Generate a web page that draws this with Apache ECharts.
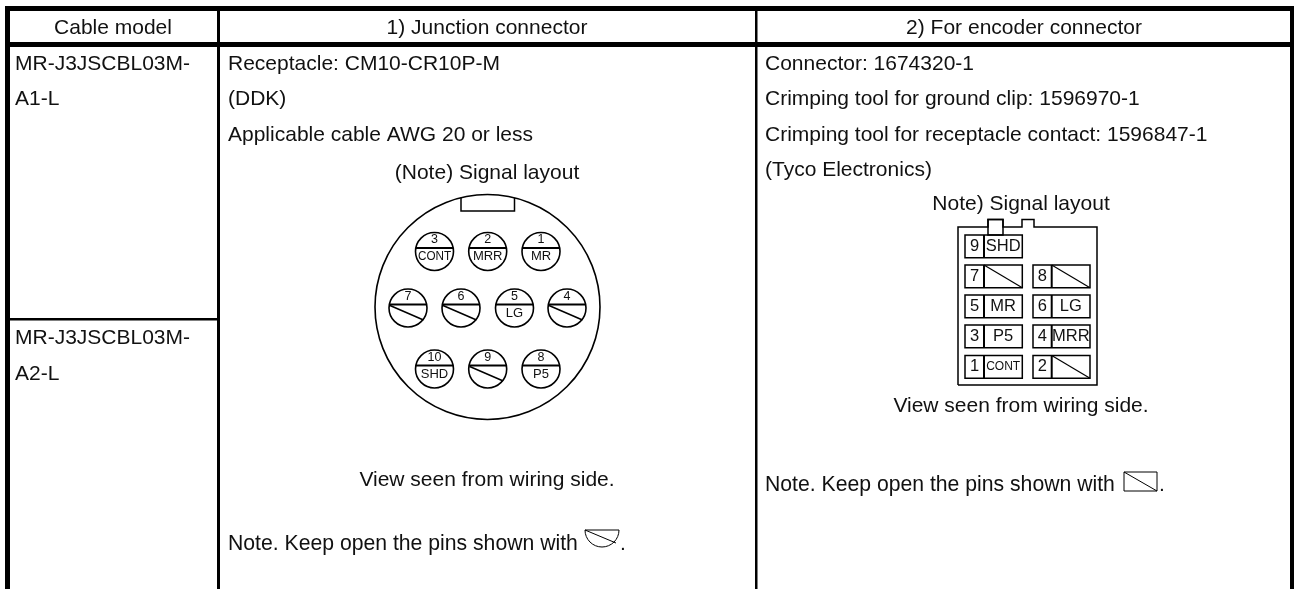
<!DOCTYPE html>
<html>
<head>
<meta charset="utf-8">
<style>
  html, body { margin: 0; padding: 0; background: #fff; }
  #chart { width: 1294px; height: 589px; }
</style>
</head>
<body>
<div id="chart"></div>
<script src="https://cdn.jsdelivr.net/npm/echarts@6/dist/echarts.min.js"></script>
<script>
const headers = ['Cable model', '1) Junction connector', '2) For encoder connector']
const cableModels = [['MR-J3JSCBL03M-', 'A1-L'], ['MR-J3JSCBL03M-', 'A2-L']]
const junctionLines = ['Receptacle: CM10-CR10P-M', '(DDK)', 'Applicable cable AWG 20 or less']
const encoderLines = ['Connector: 1674320-1', 'Crimping tool for ground clip: 1596970-1',
    'Crimping tool for receptacle contact: 1596847-1', '(Tyco Electronics)']
const layoutTitles = ['(Note) Signal layout', 'Note) Signal layout']
const viewText = 'View seen from wiring side.'
const noteText = 'Note. Keep open the pins shown with'
const roundPinNumbers = [['3', '2', '1'], ['7', '6', '5', '4'], ['10', '9', '8']]
const roundPinSignals = [['CONT', 'MRR', 'MR'], ['', '', 'LG', ''], ['SHD', '', 'P5']]
const rectPinNumbers = [['9'], ['7', '8'], ['5', '6'], ['3', '4'], ['1', '2']]
const rectPinSignals = [['SHD'], ['', ''], ['MR', 'LG'], ['P5', 'MRR'], ['CONT', '']]

const FONT = '"Liberation Sans", Arial, sans-serif'
const INK = '#000'
const TEXT_INK = '#111'

// layout, all in page pixels
const roundRowY = [251.5, 308, 369]
const roundColX = [[434.5, 487.7, 541], [408, 461, 514.5, 567], [434.5, 487.7, 541]]
const rectRowY = [235, 265, 295, 325, 355.5]
const rectColX = [[965, 984, 1022.3], [1033, 1051.7, 1090]]
const PIN_R = 19

function text(api, x, y, str, size, align, extra) {
    const p = api.coord([x, y])
    return Object.assign({
        type: 'text',
        x: p[0],
        y: p[1],
        style: {
            text: str,
            font: size + 'px ' + FONT,
            fill: TEXT_INK,
            align: align || 'left',
            verticalAlign: 'middle'
        }
    }, extra || {})
}

function line(api, x1, y1, x2, y2, w) {
    const a = api.coord([x1, y1])
    const b = api.coord([x2, y2])
    return {
        type: 'line',
        shape: { x1: a[0], y1: a[1], x2: b[0], y2: b[1] },
        style: { stroke: INK, lineWidth: w || 1.5 }
    }
}

function bar(api, x, y, w, h) {
    const p = api.coord([x, y])
    return { type: 'rect', shape: { x: p[0], y: p[1], width: w, height: h }, style: { fill: INK } }
}

function box(api, x, y, w, h, lw) {
    const p = api.coord([x, y])
    return {
        type: 'rect',
        shape: { x: p[0], y: p[1], width: w, height: h },
        style: { fill: 'none', stroke: INK, lineWidth: lw || 1.5 }
    }
}

function renderTable(params, api) {
    return {
        type: 'group',
        children: [
            bar(api, 5, 6, 1289, 5),
            bar(api, 5, 42, 1289, 5),
            bar(api, 5, 6, 5, 583),
            bar(api, 1290, 6, 4, 583),
            bar(api, 217, 11, 3, 578),
            bar(api, 755, 11, 2.5, 578),
            bar(api, 10, 318, 207, 2.5)
        ]
    }
}

function renderTexts(params, api) {
    const kids = []
    const headX = [113, 487, 1024]
    headers.forEach((h, i) => kids.push(text(api, headX[i], 28, h, 21, 'center')))
    const modelY = [[64, 99], [338, 374]]
    cableModels.forEach((m, i) => m.forEach((s, j) => kids.push(text(api, 15, modelY[i][j], s, 21))))
    junctionLines.forEach((s, i) => kids.push(text(api, 228, 64 + i * 35.5, s, 21)))
    encoderLines.forEach((s, i) => kids.push(text(api, 765, 64 + i * 35.5, s, 21)))
    kids.push(text(api, 487, 173, layoutTitles[0], 21, 'center'))
    kids.push(text(api, 1021, 204, layoutTitles[1], 21, 'center'))
    kids.push(text(api, 487, 480, viewText, 21, 'center'))
    kids.push(text(api, 1021, 406, viewText, 21, 'center'))
    kids.push(text(api, 228, 544, noteText, 21.2))
    kids.push(text(api, 765, 485, noteText, 21.2))
    kids.push(text(api, 620, 544, '.', 21))
    kids.push(text(api, 1159, 485, '.', 21))
    return { type: 'group', children: kids }
}

function circle(api, x, y, r, lw) {
    const p = api.coord([x, y])
    return { type: 'circle', shape: { cx: p[0], cy: p[1], r: r }, style: { fill: '#fff', stroke: INK, lineWidth: lw } }
}

function renderRoundBody(params, api) {
    // key notch hangs off the rim, the arc itself closes its top
    const notch = [[461, 197.7], [461, 211], [514.5, 211], [514.5, 197.7]]
    return {
        type: 'group',
        children: [
            circle(api, 487.5, 307, 112.5, 1.6),
            {
                type: 'polyline',
                shape: { points: notch.map(q => api.coord(q)) },
                style: { fill: 'none', stroke: INK, lineWidth: 1.5 }
            }
        ]
    }
}

function renderRoundPins(params, api) {
    const kids = []
    roundPinNumbers.forEach((row, r) => row.forEach((num, c) => {
        const x = roundColX[r][c]
        const y = roundRowY[r]
        const sig = roundPinSignals[r][c]
        kids.push(circle(api, x, y, PIN_R, 1.6))
        kids.push(line(api, x - PIN_R + 0.5, y - 3.5, x + PIN_R - 0.5, y - 3.5, 2))
        kids.push(text(api, x, y - 11.5, num, 12.5, 'center'))
        if (sig) {
            const wide = sig === 'CONT'
            kids.push(text(api, x, y + 5, sig, 13, 'center', wide ? { scaleX: 0.9 } : null))
        } else {
            kids.push(line(api, x - 18, y - 2.5, x + 15.5, y + 12, 1.5))
        }
    }))
    return { type: 'group', children: kids }
}

function renderRectBody(params, api) {
    const outline = [[958, 385], [958, 227], [988, 227], [988, 219.5], [1003, 219.5], [1003, 227], [1022, 227],
        [1022, 219.5], [1034, 219.5], [1034, 227], [1097, 227], [1097, 385], [958, 385]]
    return {
        type: 'group',
        children: [
            {
                type: 'polyline',
                shape: { points: outline.map(q => api.coord(q)) },
                style: { fill: 'none', stroke: INK, lineWidth: 1.5 }
            },
            box(api, 988, 219.5, 15, 15.5)
        ]
    }
}

function renderRectPins(params, api) {
    const kids = []
    const h = 22.7
    rectPinNumbers.forEach((row, r) => row.forEach((num, c) => {
        const xs = rectColX[c]
        const y = rectRowY[r]
        const sig = rectPinSignals[r][c]
        const mid = y + h / 2
        kids.push(box(api, xs[0], y, xs[2] - xs[0], h))
        kids.push(line(api, xs[1], y, xs[1], y + h, 2))
        kids.push(text(api, (xs[0] + xs[1]) / 2, mid, num, 16.5, 'center'))
        if (sig) {
            kids.push(text(api, (xs[1] + xs[2]) / 2, mid, sig, sig === 'CONT' ? 12 : 16.5, 'center'))
        } else {
            kids.push(line(api, xs[1], y, xs[2], y + h, 1.2))
        }
    }))
    return { type: 'group', children: kids }
}

function renderIcons(params, api) {
    // the open pin marks that sit inside the two notes
    const c = api.coord([602, 530])
    const r = 17
    const rect = api.coord([1124, 472])
    return {
        type: 'group',
        children: [
            {
                type: 'arc',
                shape: { cx: c[0], cy: c[1], r: r, startAngle: 0, endAngle: Math.PI },
                style: { fill: 'none', stroke: INK, lineWidth: 1 }
            },
            line(api, 602 - r, 530, 602 + r - 3, 530 + 13, 1),
            line(api, 602 - r, 530, 602 + r, 530, 1.2),
            { type: 'rect', shape: { x: rect[0], y: rect[1], width: 33, height: 19 }, style: { fill: 'none', stroke: INK, lineWidth: 1 } },
            line(api, 1124, 472, 1157, 491, 1)
        ]
    }
}

function layer(fn) {
    return { type: 'custom', coordinateSystem: 'cartesian2d', silent: true, data: [[0, 0]], renderItem: fn, animation: false }
}

const chart = echarts.init(document.getElementById('chart'), null, { renderer: 'canvas' })
chart.setOption({
    animation: false,
    backgroundColor: '#fff',
    grid: { left: 0, right: 0, top: 0, bottom: 0 },
    xAxis: { type: 'value', min: 0, max: 1294, show: false },
    yAxis: { type: 'value', min: 0, max: 589, inverse: true, show: false },
    series: [
        layer(renderTable),
        layer(renderRoundBody),
        layer(renderRoundPins),
        layer(renderRectBody),
        layer(renderRectPins),
        layer(renderIcons),
        layer(renderTexts)
    ]
})
</script>
</body>
</html>
